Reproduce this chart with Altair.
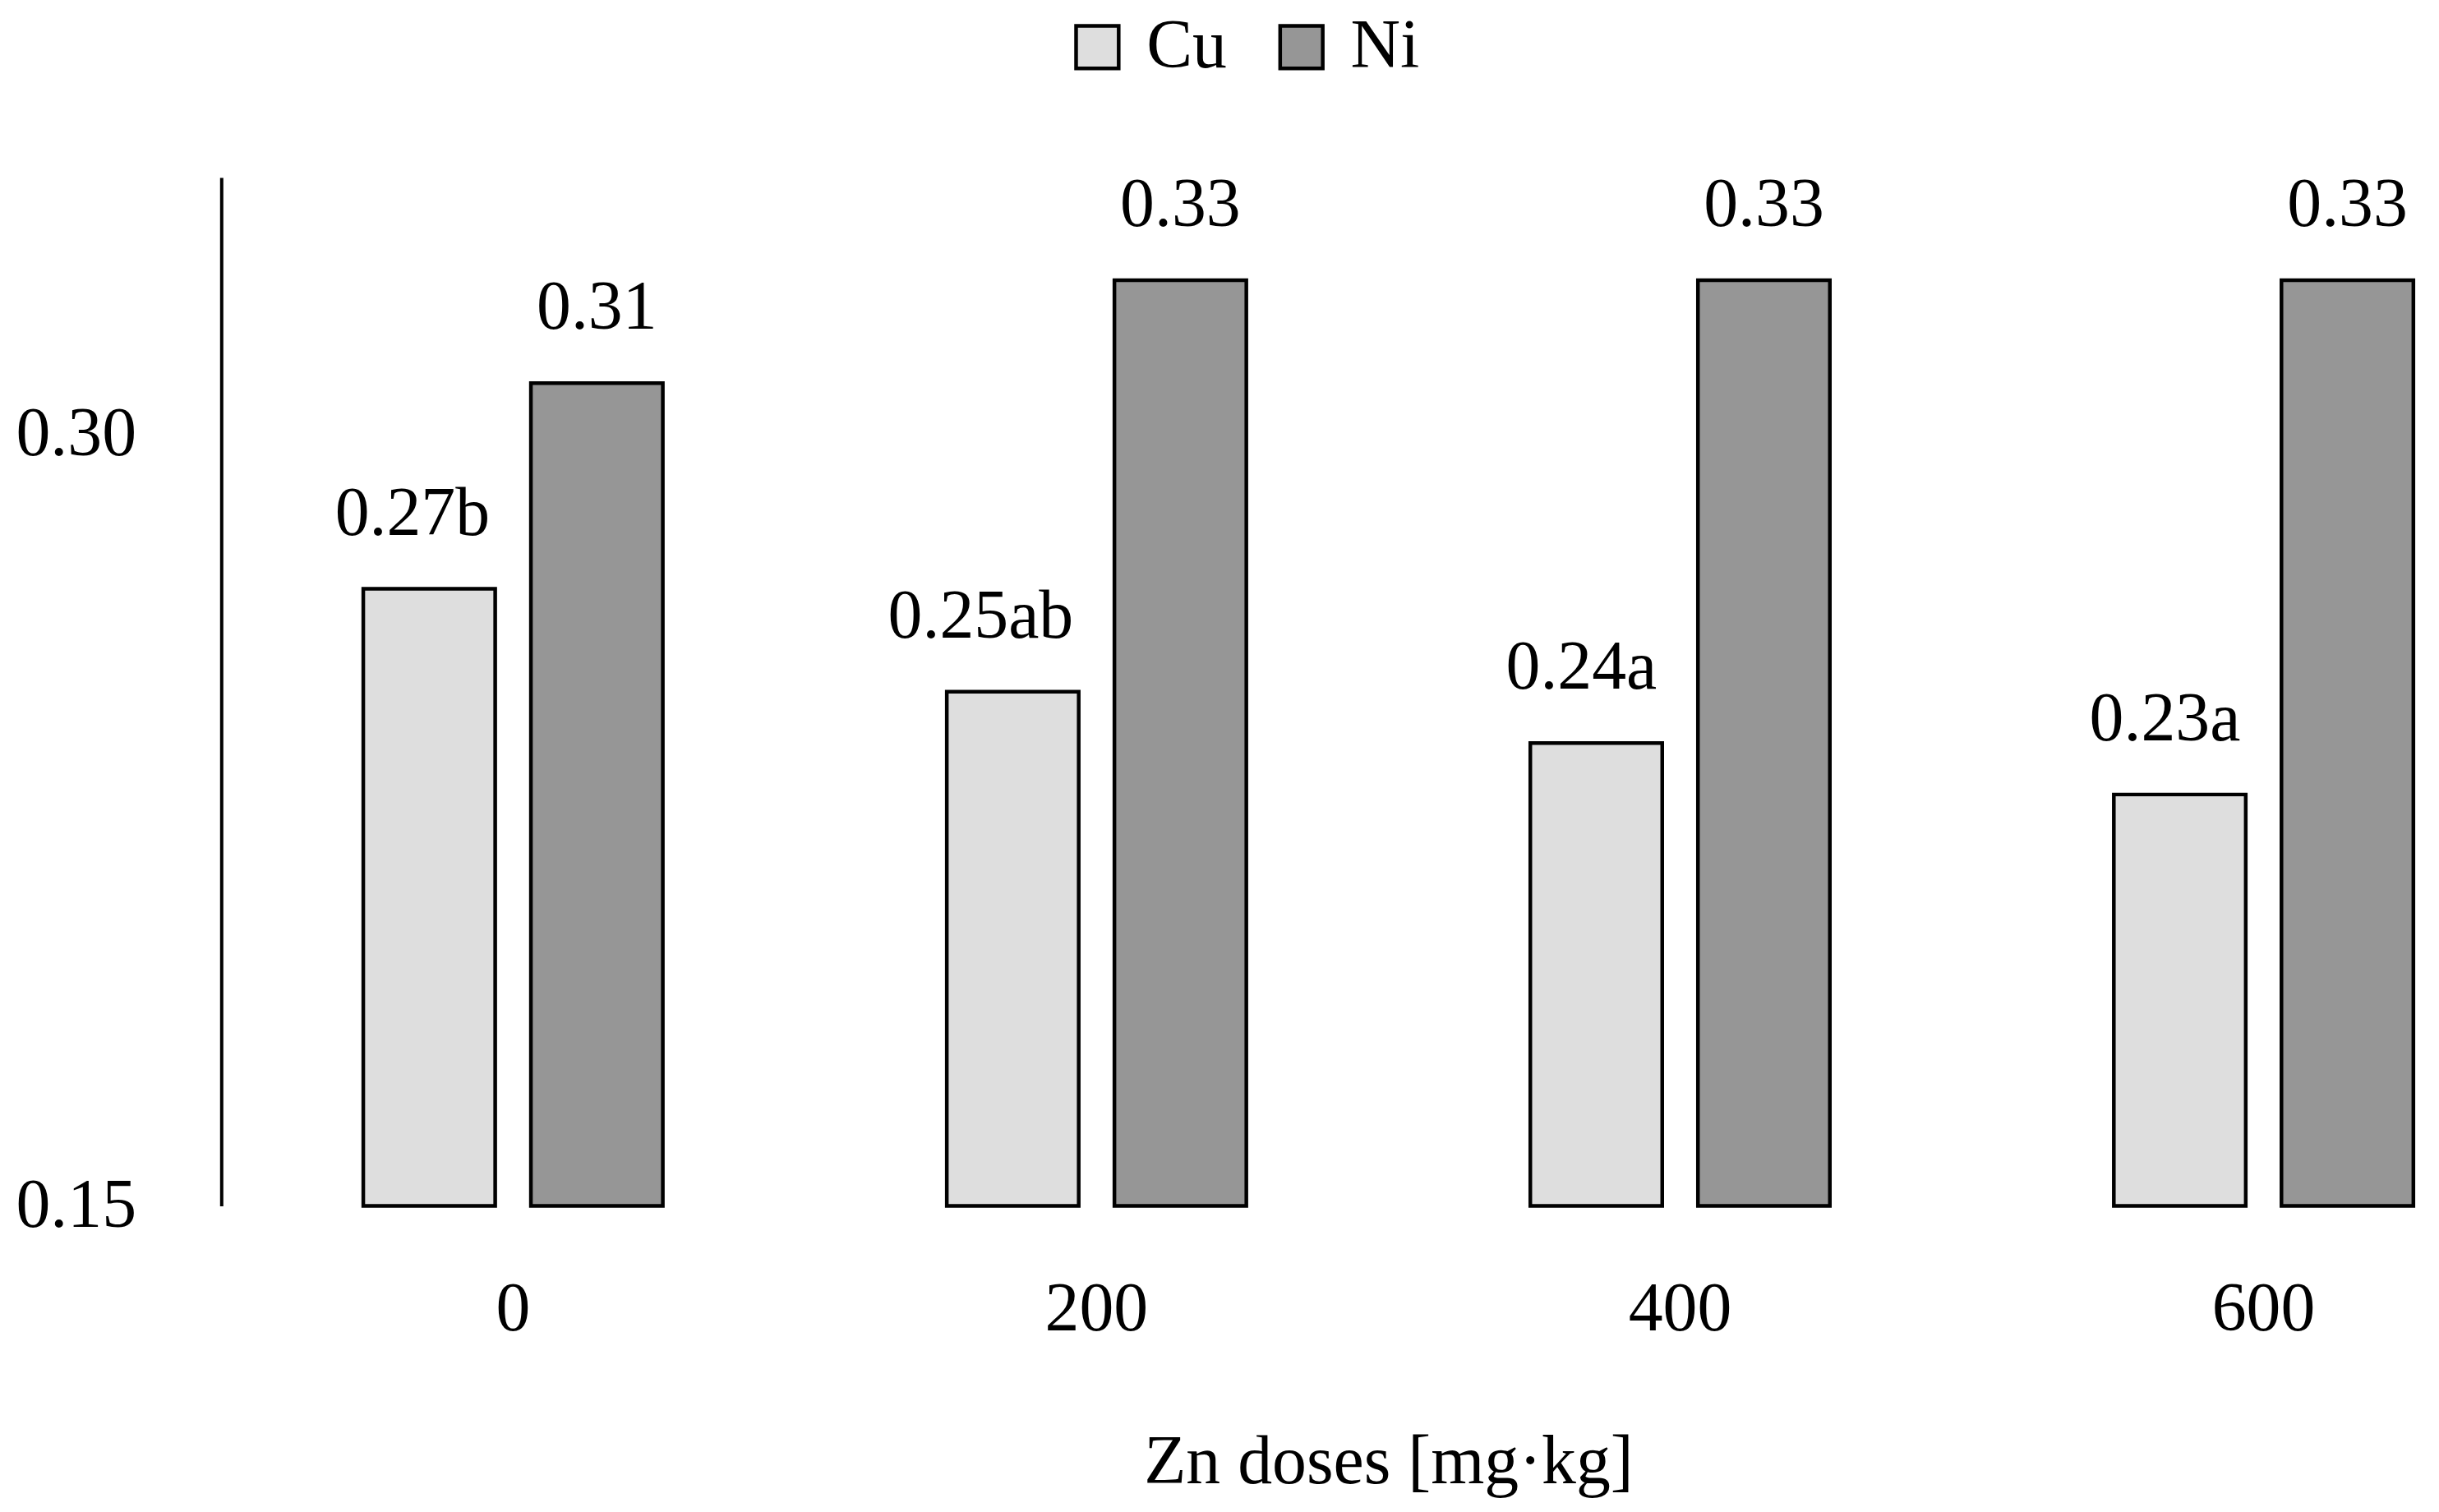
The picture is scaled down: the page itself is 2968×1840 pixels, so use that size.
import altair as alt
import pandas as pd

doses = ["0", "200", "400", "600"]
elements = ["Cu", "Ni"]
cu_values = [0.27, 0.25, 0.24, 0.23]
ni_values = [0.31, 0.33, 0.33, 0.33]
cu_labels = ["0.27b", "0.25ab", "0.24a", "0.23a"]
ni_labels = ["0.31", "0.33", "0.33", "0.33"]
colors = ["#dedede", "#969696"]

rows = []
for i, d in enumerate(doses):
    rows.append(dict(dose=d, element="Cu", value=cu_values[i], label=cu_labels[i]))
    rows.append(dict(dose=d, element="Ni", value=ni_values[i], label=ni_labels[i]))
df = pd.DataFrame(rows)

FONT = "Liberation Serif"
FS = 84

x = alt.X(
    "dose:N",
    sort=doses,
    scale=alt.Scale(range=[0, 2848], paddingInner=0, paddingOuter=0),
    axis=alt.Axis(
        title="Zn doses [mg·kg]",
        labelAngle=0,
        domain=False,
        ticks=False,
        grid=False,
        labelPadding=85,
        labelBaseline="top",
        titlePadding=104,
        labelFont=FONT,
        titleFont=FONT,
        labelFontSize=FS,
        titleFontSize=FS,
        titleFontWeight="normal",
        labelColor="black",
        titleColor="black",
    ),
)
xo = alt.XOffset(
    "element:N",
    sort=elements,
    scale=alt.Scale(domain=elements, paddingInner=0.213, paddingOuter=0.847),
)
y = alt.Y(
    "value:Q",
    scale=alt.Scale(domain=[0.15, 0.35], zero=False, nice=False),
    axis=alt.Axis(
        title=None,
        values=[0.15, 0.30],
        format=".2f",
        grid=False,
        ticks=False,
        tickSize=0,
        domainColor="black",
        domainWidth=4,
        labelAlign="left",
        labelBaseline="middle",
        labelPadding=251,
        labelFont=FONT,
        labelFontSize=FS,
        labelColor="black",
    ),
)

color = alt.Color(
    "element:N",
    sort=elements,
    scale=alt.Scale(domain=elements, range=colors),
    legend=alt.Legend(
        title=None,
        orient="none",
        direction="horizontal",
        legendX=1027,
        legendY=-201,
        padding=0,
        symbolType="square",
        symbolSize=2700,
        symbolStrokeColor="black",
        symbolStrokeWidth=4.5,
        symbolOpacity=1,
        labelFont=FONT,
        labelFontSize=FS,
        labelColor="black",
        labelOffset=18,
        columnPadding=48,
    ),
)

base = alt.Chart(df)

bars = base.mark_bar(stroke="black", strokeWidth=4.5, opacity=1).encode(
    x=x, xOffset=xo, y=y, y2=alt.datum(0.15), color=color
)

cu_text = base.transform_filter(alt.datum.element == "Cu").mark_text(
    font=FONT, fontSize=FS, baseline="alphabetic", align="right", dx=74, dy=-66, color="black"
).encode(x=x, xOffset=xo, y=y, text="label:N")

ni_text = base.transform_filter(alt.datum.element == "Ni").mark_text(
    font=FONT, fontSize=FS, baseline="alphabetic", align="center", dy=-66, color="black"
).encode(x=x, xOffset=xo, y=y, text="label:N")

chart = (
    alt.layer(bars, cu_text, ni_text)
    .properties(
        width=2698,
        height=1255,
        autosize=alt.AutoSizeParams(type="none"),
        padding={"left": 262, "top": 206, "right": 0, "bottom": 360},
        view=alt.ViewBackground(stroke="white", strokeOpacity=0, strokeWidth=0),
    )
    .configure_view(stroke="white", strokeOpacity=0, strokeWidth=0)
    .configure_axis(grid=False)
    .configure(background="white")
)

chart.save("out.html", embed_options={"renderer": "svg", "actions": False})
